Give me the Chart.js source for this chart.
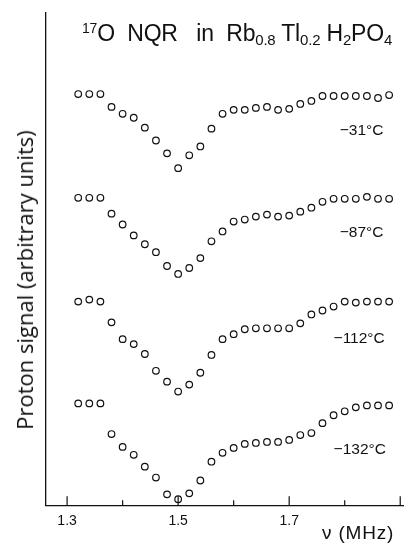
<!DOCTYPE html>
<html>
<head>
<meta charset="utf-8">
<script src="https://cdn.jsdelivr.net/npm/chart.js@4.4.0/dist/chart.umd.min.js"></script>
<style>
  html, body { margin: 0; padding: 0; background: #fff; }
  #wrap { position: relative; width: 409px; height: 544px; overflow: hidden; }
  #grafica { position: absolute; left: 0; top: 0; }
  .txt { position: absolute; font-family: "Liberation Sans", Arial, sans-serif; color: #111; white-space: nowrap; }
  #titulo { left: 82px; top: 22px; font-size: 23px; line-height: 1; letter-spacing: -0.2px; }
  #titulo sub { font-size: 15px; line-height: 0; vertical-align: -4px; }
  #titulo sup { font-size: 14px; line-height: 0; vertical-align: 8px; }
  #ejeY { left: 24px; top: 280px; font-family: "Open Sans", "Noto Sans", sans-serif; font-size: 22px;
          transform: translate(-50%, -50%) rotate(-90deg); }
  #ejeX { left: 322px; top: 522px; font-size: 19px; letter-spacing: 0.8px; line-height: 1.15; }
</style>
</head>
<body>
<div id="wrap">
  <canvas id="grafica" width="409" height="544"></canvas>
  <div class="txt" id="titulo"><sup>17</sup>O&nbsp; NQR&nbsp;&nbsp; in&nbsp; Rb<sub>0.8</sub> Tl<sub>0.2</sub> H<sub>2</sub>PO<sub>4</sub></div>
  <div class="txt" id="ejeY">Proton signal (arbitrary units)</div>
  <div class="txt" id="ejeX">ν (MHz)</div>
</div>
<script>
// frecuencias (MHz)
const frecuencias = [1.32, 1.34, 1.36, 1.38, 1.40, 1.42, 1.44, 1.46, 1.48, 1.50,
                     1.52, 1.54, 1.56, 1.58, 1.60, 1.62, 1.64, 1.66, 1.68, 1.70,
                     1.72, 1.74, 1.76, 1.78, 1.80, 1.82, 1.84, 1.86, 1.88];

// señal (unidades arbitrarias, curvas desplazadas)
const senal31 = [41.6, 41.6, 41.6, 40.3, 39.6, 39.2, 38.2, 36.9, 35.6, 34.1,
                 35.4, 36.3, 38.1, 39.6, 40.0, 40.0, 40.2, 40.3, 40.0, 40.1,
                 40.6, 40.9, 41.4, 41.4, 41.4, 41.4, 41.4, 41.2, 41.5];
const senal87 = [31.1, 31.1, 31.1, 29.5, 28.4, 27.3, 26.4, 25.6, 24.2, 23.4,
                 24.0, 25.0, 26.7, 27.7, 28.7, 28.9, 29.2, 29.4, 29.2, 29.3,
                 29.7, 30.1, 30.7, 31.0, 31.0, 31.0, 31.2, 31.0, 31.0];
const senal112 = [20.6, 20.8, 20.6, 18.5, 16.8, 16.3, 15.3, 13.6, 12.5, 11.5,
                  12.2, 13.4, 15.2, 16.8, 17.3, 17.8, 17.9, 17.9, 17.9, 17.9,
                  18.4, 19.3, 19.7, 20.1, 20.6, 20.5, 20.6, 20.6, 20.6];
const senal132 = [10.3, 10.3, 10.3, 7.2, 5.9, 5.1, 3.9, 2.8, 1.1, 0.6,
                  1.2, 2.5, 4.4, 5.3, 5.8, 6.2, 6.3, 6.4, 6.4, 6.6,
                  7.1, 7.3, 8.3, 9.1, 9.5, 9.9, 10.1, 10.1, 10.1];

const temperaturas = ['−31°C', '−87°C', '−112°C', '−132°C'];
const ticksConEtiqueta = [1.3, 1.5, 1.7];

const series = [senal31, senal87, senal112, senal132];

function puntos(valores) {
    return frecuencias.map((f, i) => ({ x: f, y: valores[i] }));
}

// marcas del eje x hacia dentro, y etiquetas de temperatura
const extras = {
    id: 'extras',
    afterDraw(chart) {
        const ctx = chart.ctx;
        const xs = chart.scales.x;
        const ys = chart.scales.y;
        const base = xs.top;
        ctx.save();
        ctx.strokeStyle = '#111';
        ctx.lineWidth = 1.2;
        xs.ticks.forEach(t => {
            const px = xs.getPixelForValue(t.value);
            const largo = Math.round(t.value * 10) % 2 === 1 ? 9 : 5;
            ctx.beginPath();
            ctx.moveTo(px, base);
            ctx.lineTo(px, base - largo);
            ctx.stroke();
        });
        ctx.fillStyle = '#111';
        ctx.font = '15.5px "Liberation Sans", Arial, sans-serif';
        ctx.textBaseline = 'middle';
        const posiciones = [[1.791, 37.9], [1.791, 27.6], [1.780, 16.8], [1.780, 5.6]];
        temperaturas.forEach((txt, i) => {
            ctx.fillText(txt, xs.getPixelForValue(posiciones[i][0]), ys.getPixelForValue(posiciones[i][1]));
        });
        ctx.restore();
    }
};

function crearGrafica() {
    const ctx = document.getElementById('grafica').getContext('2d');
    new Chart(ctx, {
        type: 'scatter',
        data: {
            datasets: series.map((s, i) => ({
                label: temperaturas[i],
                data: puntos(s),
                pointRadius: 3.3,
                pointBorderWidth: 1.2,
                pointBorderColor: '#111',
                pointBackgroundColor: '#fff',
                showLine: false
            }))
        },
        options: {
            responsive: false,
            animation: false,
            layout: { padding: { left: 46, right: 6, top: 13, bottom: 6 } },
            plugins: {
                legend: { display: false },
                tooltip: { enabled: false }
            },
            scales: {
                x: {
                    type: 'linear',
                    min: 1.262,
                    max: 1.905,
                    grid: { display: false, drawTicks: false },
                    border: { display: true, color: '#111', width: 1.3 },
                    ticks: {
                        stepSize: 0.1,
                        includeBounds: false,
                        autoSkip: false,
                        maxRotation: 0,
                        padding: 8,
                        color: '#111',
                        font: { size: 14, family: '"Liberation Sans", Arial, sans-serif' },
                        callback: v => ticksConEtiqueta.some(t => Math.abs(t - v) < 1e-6) ? v.toFixed(1) : ''
                    }
                },
                y: {
                    min: 0,
                    max: 49.8,
                    grid: { display: false, drawTicks: false },
                    border: { display: true, color: '#111', width: 1.3 },
                    ticks: { display: false }
                }
            }
        },
        plugins: [extras]
    });
}

window.addEventListener('load', crearGrafica);
</script>
</body>
</html>
